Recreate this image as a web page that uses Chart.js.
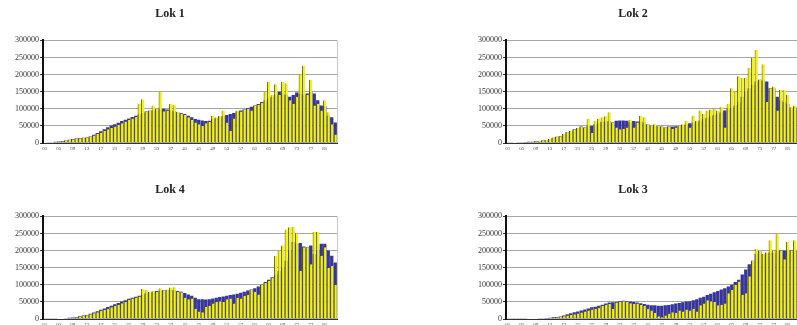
<!DOCTYPE html>
<html>
<head>
<meta charset="utf-8">
<script src="https://cdn.jsdelivr.net/npm/chart.js@4.4.1/dist/chart.umd.min.js"></script>
<style>
  html, body { margin: 0; padding: 0; background: #fff; }
  body { width: 797px; height: 325px; overflow: hidden; position: relative; }
  canvas { position: absolute; }
</style>
</head>
<body>
<canvas id="lok1" width="340" height="153" style="left:0px;top:0px"></canvas>
<canvas id="lok2" width="340" height="153" style="left:463px;top:0px"></canvas>
<canvas id="lok4" width="340" height="153" style="left:0px;top:176px"></canvas>
<canvas id="lok3" width="340" height="153" style="left:463px;top:176px"></canvas>
<script>
// Period labels along the x axis (every fourth one is printed)
const periods = [
  "01","02","03","04","05","06","07","08","09","10","11","12","13","14",
  "15","16","17","18","19","20","21","22","23","24","25","26","27","28",
  "29","30","31","32","33","34","35","36","37","38","39","40","41","42",
  "43","44","45","46","47","48","49","50","51","52","53","54","55","56",
  "57","58","59","60","61","62","63","64","65","66","67","68","69","70",
  "71","72","73","74","75","76","77","78","79","80","81","82","83","84"
];

// Y axis tick values
const yTicks = [0, 50000, 100000, 150000, 200000, 250000, 300000];

// Lok 1
const lok1Yellow = [
  1000,1500,2000,3000,4000,5000,7000,9000,11000,13000,14000,15000,15000,18000,
  22000,26000,30000,35000,40000,44000,48000,53000,58000,63000,68000,72000,76000,115000,
  128000,92000,95000,110000,100000,150000,93000,95000,115000,112000,92000,86000,82000,75000,
  68000,60000,55000,50000,58000,62000,80000,75000,80000,95000,60000,35000,72000,95000,
  92000,98000,100000,95000,108000,112000,118000,150000,178000,140000,172000,140000,178000,175000,
  125000,115000,135000,200000,225000,140000,185000,110000,115000,95000,125000,90000,55000,25000
];
const lok1Navy = [
  1500,2000,2500,3500,4500,5500,7500,9500,11500,13500,14500,15500,16000,19000,
  24000,29000,34000,40000,46000,51000,55000,59000,64000,68000,72000,76000,80000,84000,
  88000,92000,94000,96000,98000,100000,100000,98000,96000,93000,90000,88000,85000,80000,
  75000,70000,68000,66000,64000,65000,70000,73000,77000,79000,82000,85000,88000,92000,
  95000,98000,102000,106000,110000,114000,120000,125000,130000,135000,140000,150000,145000,140000,
  135000,140000,148000,145000,142000,145000,150000,145000,125000,110000,108000,80000,75000,60000
];

// Lok 2
const lok2Yellow = [
  1000,1000,1500,2000,2500,3000,3500,4000,5000,6000,7000,9000,12000,15000,
  18000,20000,26000,32000,35000,40000,44000,48000,45000,70000,30000,65000,70000,75000,
  78000,90000,60000,45000,40000,42000,45000,67000,45000,60000,80000,75000,55000,52000,
  55000,50000,48000,45000,48000,42000,45000,50000,55000,65000,45000,80000,65000,95000,
  85000,95000,98000,100000,95000,105000,45000,115000,160000,150000,195000,190000,190000,220000,
  250000,272000,185000,230000,120000,160000,165000,95000,155000,155000,140000,105000,108000,100000
];
const lok2Navy = [
  1000,1000,1500,2000,2500,3000,3500,4000,5000,6000,7000,9000,12000,15000,
  18000,20000,26000,32000,35000,40000,44000,48000,45000,50000,50000,55000,60000,62000,
  63000,64000,60000,65000,66000,66000,65000,60000,64000,63000,62000,60000,54000,50000,
  50000,49000,48000,45000,48000,48000,49000,50000,52000,54000,58000,60000,62000,66000,
  70000,74000,78000,82000,86000,90000,95000,100000,102000,110000,120000,135000,150000,160000,
  170000,180000,185000,182000,180000,160000,160000,135000,125000,120000,115000,100000,105000,95000
];

// Lok 4
const lok4Yellow = [
  500,500,500,800,1000,1200,2000,3000,4000,5000,7000,9000,11000,14000,
  17000,20000,24000,27000,30000,34000,38000,42000,46000,50000,56000,60000,63000,66000,
  88000,85000,80000,82000,80000,90000,84000,86000,92000,93000,80000,78000,62000,58000,
  60000,30000,22000,20000,35000,38000,45000,50000,52000,50000,58000,60000,45000,62000,
  60000,68000,70000,85000,80000,72000,100000,105000,112000,120000,185000,200000,215000,262000,
  268000,270000,250000,140000,210000,210000,160000,255000,255000,185000,210000,150000,155000,100000
];
const lok4Navy = [
  500,500,800,1000,1200,1500,2500,3500,4500,6000,8000,10000,12000,15000,
  19000,23000,27000,31000,35000,39000,43000,47000,51000,55000,59000,62000,65000,68000,
  72000,76000,78000,80000,82000,83000,84000,85000,85000,84000,82000,80000,76000,72000,
  68000,62000,58000,58000,57000,58000,60000,62000,64000,66000,68000,70000,72000,74000,
  77000,80000,83000,86000,90000,95000,100000,108000,115000,122000,130000,140000,150000,170000,
  200000,225000,220000,222000,212000,210000,215000,190000,200000,220000,220000,200000,185000,165000
];

// Lok 3
const lok3Yellow = [
  500,500,500,500,800,800,1000,1000,1200,1500,2000,2500,3000,4000,
  5000,6000,8000,10000,12000,14000,16000,19000,22000,25000,28000,30000,33000,38000,
  42000,44000,30000,48000,50000,52000,50000,46000,44000,45000,42000,38000,30000,25000,
  18000,8000,5000,10000,15000,20000,18000,25000,22000,28000,25000,30000,22000,40000,
  45000,55000,52000,50000,40000,42000,45000,75000,85000,100000,110000,70000,75000,125000,
  170000,205000,200000,190000,195000,230000,200000,250000,200000,175000,225000,200000,230000,200000
];
const lok3Navy = [
  500,500,500,800,1000,1000,1200,1500,1500,2000,2500,3000,4000,5000,
  6000,7500,10000,14000,17000,20000,22000,25000,28000,31000,34000,36000,39000,42000,
  45000,48000,49000,50000,52000,53000,52000,51000,50000,48000,46000,44000,42000,40000,
  40000,39000,39000,40000,41000,43000,45000,47000,49000,51000,52000,55000,58000,62000,
  65000,70000,74000,78000,82000,86000,90000,95000,100000,108000,115000,130000,145000,160000,
  170000,190000,198000,190000,192000,195000,192000,200000,200000,200000,200000,200000,200000,200000
];

// Thin light frame on the right edge of each plot
const rightFrame = {
  id: 'rightFrame',
  afterDraw(chart) {
    const a = chart.chartArea, ctx = chart.ctx;
    ctx.save();
    ctx.strokeStyle = '#c8c8c8';
    ctx.lineWidth = 1;
    ctx.beginPath();
    ctx.moveTo(a.right + 0.5, a.top);
    ctx.lineTo(a.right + 0.5, a.bottom);
    ctx.stroke();
    ctx.restore();
  }
};

function drawPanel(id, title, yellow, navy) {
  new Chart(document.getElementById(id), {
    type: 'bar',
    data: {
      labels: periods,
      datasets: [
        {
          label: 'Yellow',
          data: yellow,
          order: 0,
          backgroundColor: '#f6f400',
          borderColor: '#4e4e1c',
          borderWidth: { left: 1, right: 0, top: 0, bottom: 0 },
          borderSkipped: false,
          barPercentage: 0.94,
          categoryPercentage: 1,
          grouped: false
        },
        {
          label: 'Navy',
          data: navy,
          order: 1,
          backgroundColor: '#35359a',
          borderWidth: 0,
          barPercentage: 0.94,
          categoryPercentage: 1,
          grouped: false
        }
      ]
    },
    options: {
      responsive: false,
      animation: false,
      devicePixelRatio: 1,
      layout: { padding: { left: 3, right: 3, top: 0, bottom: 0 } },
      plugins: {
        legend: { display: false },
        tooltip: { enabled: false },
        title: {
          display: true,
          text: title,
          color: '#222',
          font: { family: 'Liberation Serif', size: 12, weight: 'bold' },
          padding: { top: 7, bottom: 19 }
        }
      },
      scales: {
        x: {
          offset: true,
          afterFit(s) { s.height = 10; },
          grid: { display: false, drawTicks: true, tickLength: 2, tickColor: '#444' },
          border: { display: true, color: '#333', width: 1 },
          ticks: {
            autoSkip: false,
            maxRotation: 0,
            minRotation: 0,
            padding: 1,
            color: '#444',
            font: { family: 'Liberation Serif', size: 5 },
            callback(v, i) { return i % 4 === 0 ? periods[i] : ''; }
          }
        },
        y: {
          min: 0,
          max: 300000,
          afterFit(s) { s.width = 40; },
          afterBuildTicks(s) { s.ticks = yTicks.map(v => ({ value: v })); },
          grid: { color: '#a6a6a6', lineWidth: 1, drawTicks: true, tickLength: 3, tickColor: '#333' },
          border: { display: true, color: '#111', width: 2 },
          ticks: {
            padding: 1,
            color: '#333',
            font: { family: 'Liberation Serif', size: 8 },
            callback(v) { return String(v); }
          }
        }
      }
    },
    plugins: [rightFrame]
  });
}

drawPanel('lok1', 'Lok 1', lok1Yellow, lok1Navy);
drawPanel('lok2', 'Lok 2', lok2Yellow, lok2Navy);
drawPanel('lok4', 'Lok 4', lok4Yellow, lok4Navy);
drawPanel('lok3', 'Lok 3', lok3Yellow, lok3Navy);
</script>
</body>
</html>
